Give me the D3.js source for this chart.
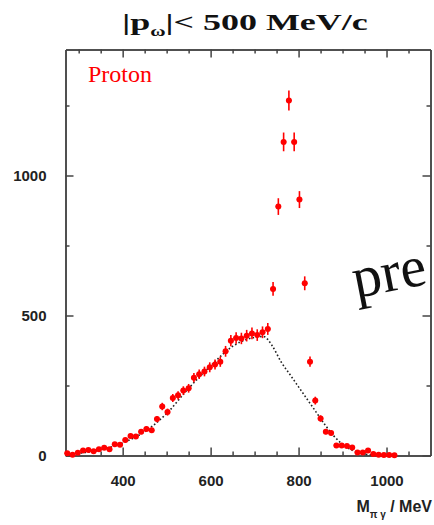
<!DOCTYPE html>
<html>
<head>
<meta charset="utf-8">
<script src="https://cdn.jsdelivr.net/npm/d3@7"></script>
<style>
  body { margin: 0; background: #fff; }
  svg { display: block; }
</style>
</head>
<body>
<div id="chart"></div>
<script>
// bin centres (MeV) and counts
const massBins = [274, 286, 298, 310, 322, 334, 346, 358, 370, 382, 394, 406, 418, 430, 442, 454, 466, 478, 490, 502,
    514, 526, 538, 550, 562, 574, 586, 598, 610, 622, 634, 646, 658, 670, 682, 694, 706, 718, 730, 742,
    754, 766, 778, 790, 802, 814, 826, 838, 850, 862, 874, 886, 898, 910, 922, 934, 946, 958, 970, 982,
    994, 1006, 1018];
const counts = [8, 3, 10, 18, 20, 15, 22, 28, 22, 40, 38, 55, 70, 68, 85, 95, 90, 130, 175, 155,
    205, 215, 232, 240, 278, 290, 300, 315, 325, 335, 372, 410, 420, 418, 428, 436, 430, 440, 452, 595,
    889, 1120, 1268, 1120, 914, 615, 335, 196, 132, 85, 80, 36, 36, 34, 29, 11, 11, 18, 5, 3,
    2, 2, 1];

// background shape (dotted curve)
const bgMass = [270, 300, 350, 400, 450, 500, 550, 600, 650, 700, 720, 740, 760, 780, 800, 820, 840, 860, 880, 900, 920, 940, 960, 980];
const bgCounts = [3, 8, 20, 45, 85, 150, 240, 320, 390, 422, 425, 392, 335, 290, 245, 200, 155, 110, 70, 40, 20, 9, 3, 1];

const xMajor = [400, 600, 800, 1000];
const xMinor = [300, 350, 450, 500, 550, 650, 700, 750, 850, 900, 950, 1050];
const yMajor = [0, 500, 1000];
const yMinor = [250, 750, 1250];

const width = 434;
const height = 525;
const margin = { top: 49.5, right: 3.5, bottom: 69.5, left: 65.5 };
const binWidth = 12;

const svg = d3.select("#chart")
    .append("svg")
    .attr("width", width)
    .attr("height", height);

svg.append("rect").attr("width", width).attr("height", height).attr("fill", "#fff");

const x = d3.scaleLinear()
    .domain([270, 1100])
    .range([margin.left, width - margin.right]);

const y = d3.scaleLinear()
    .domain([0, 1450])
    .range([height - margin.bottom, margin.top]);

// frame + ticks, all pointing inward
function styleAxis(g) {
    g.selectAll("path, line").attr("stroke", "#444").attr("stroke-width", 1.5);
    g.selectAll("text")
        .attr("fill", "#222")
        .style("font-family", "'Liberation Sans', Arial, sans-serif")
        .style("font-weight", "bold")
        .style("font-size", "15px");
}

const bottomY = height - margin.bottom;
const rightX = width - margin.right;
const fmt = d3.format("d");

svg.append("g")
    .attr("transform", `translate(0,${bottomY})`)
    .call(d3.axisBottom(x).tickValues(xMajor).tickSize(-8).tickSizeOuter(0).tickPadding(20).tickFormat(fmt))
    .call(styleAxis);
svg.append("g")
    .attr("transform", `translate(0,${bottomY})`)
    .call(d3.axisBottom(x).tickValues(xMinor).tickSize(-4).tickSizeOuter(0).tickFormat(""))
    .call(styleAxis);

svg.append("g")
    .attr("transform", `translate(0,${margin.top})`)
    .call(d3.axisTop(x).tickValues(xMajor).tickSize(-8).tickSizeOuter(0).tickFormat(""))
    .call(styleAxis);
svg.append("g")
    .attr("transform", `translate(0,${margin.top})`)
    .call(d3.axisTop(x).tickValues(xMinor).tickSize(-4).tickSizeOuter(0).tickFormat(""))
    .call(styleAxis);

svg.append("g")
    .attr("transform", `translate(${margin.left},0)`)
    .call(d3.axisLeft(y).tickValues(yMajor).tickSize(-8).tickSizeOuter(0).tickPadding(19).tickFormat(fmt))
    .call(styleAxis);
svg.append("g")
    .attr("transform", `translate(${margin.left},0)`)
    .call(d3.axisLeft(y).tickValues(yMinor).tickSize(-4).tickSizeOuter(0).tickFormat(""))
    .call(styleAxis);

svg.append("g")
    .attr("transform", `translate(${rightX},0)`)
    .call(d3.axisRight(y).tickValues(yMajor).tickSize(-8).tickSizeOuter(0).tickFormat(""))
    .call(styleAxis);
svg.append("g")
    .attr("transform", `translate(${rightX},0)`)
    .call(d3.axisRight(y).tickValues(yMinor).tickSize(-4).tickSizeOuter(0).tickFormat(""))
    .call(styleAxis);

// background curve
const bg = bgMass.map((m, i) => ({ m, v: bgCounts[i] }));
svg.append("path")
    .datum(bg)
    .attr("fill", "none")
    .attr("stroke", "#222")
    .attr("stroke-width", 1.6)
    .attr("stroke-dasharray", "1.6 2.2")
    .attr("d", d3.line().x(d => x(d.m)).y(d => y(d.v)).curve(d3.curveMonotoneX));

// data points with error bars
const data = massBins.map((m, i) => ({ m, v: counts[i] }));
const pts = svg.append("g").attr("fill", "#f00").attr("stroke", "#f00");

pts.selectAll(".ey")
    .data(data)
    .enter()
    .append("line")
    .attr("x1", d => x(d.m))
    .attr("x2", d => x(d.m))
    .attr("y1", d => y(d.v + Math.sqrt(d.v)))
    .attr("y2", d => y(Math.max(0, d.v - Math.sqrt(d.v))))
    .attr("stroke-width", 1.6);

pts.selectAll(".ex")
    .data(data)
    .enter()
    .append("line")
    .attr("x1", d => x(d.m - binWidth / 2))
    .attr("x2", d => x(d.m + binWidth / 2))
    .attr("y1", d => y(d.v))
    .attr("y2", d => y(d.v))
    .attr("stroke-width", 1.6);

pts.selectAll("circle")
    .data(data)
    .enter()
    .append("circle")
    .attr("cx", d => x(d.m))
    .attr("cy", d => y(d.v))
    .attr("r", 3)
    .attr("stroke", "none");

// title (the original is stretched sideways)
const title = svg.append("text")
    .attr("transform", "translate(245,30) scale(1.5,1)")
    .attr("text-anchor", "middle")
    .style("font-family", "'Liberation Serif', 'Times New Roman', serif")
    .style("font-weight", "bold")
    .style("font-size", "24px")
    .attr("fill", "#111");
title.append("tspan").text("|p");
title.append("tspan").attr("dy", 6).style("font-size", "14px").text("ω");
title.append("tspan").attr("dy", -6).text("|< 500 MeV/c");

// labels
svg.append("text")
    .attr("x", 88)
    .attr("y", 82)
    .attr("fill", "#f00")
    .style("font-family", "'Liberation Serif', 'Times New Roman', serif")
    .style("font-size", "24px")
    .text("Proton");

const xTitle = svg.append("text")
    .attr("x", 432)
    .attr("y", 512)
    .attr("text-anchor", "end")
    .attr("fill", "#222")
    .style("font-family", "'Liberation Sans', Arial, sans-serif")
    .style("font-weight", "bold")
    .style("font-size", "16px");
xTitle.append("tspan").text("M");
xTitle.append("tspan").attr("dy", 6).style("font-size", "10px").text("π γ");
xTitle.append("tspan").attr("dy", -6).text(" / MeV");

svg.append("text")
    .attr("transform", "translate(356,298) rotate(-11)")
    .attr("fill", "#111")
    .style("font-family", "'Liberation Serif', 'Times New Roman', serif")
    .style("font-size", "58px")
    .text("pre");
</script>
</body>
</html>
